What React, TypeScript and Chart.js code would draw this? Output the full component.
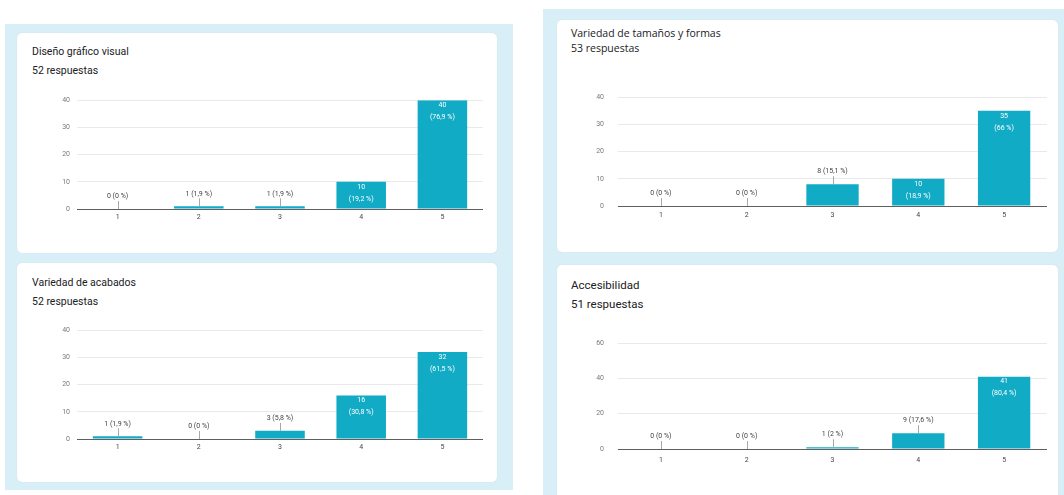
import React, { useEffect, useRef } from "react";
import { Chart, registerables } from "chart.js";

Chart.register(...registerables);

// ---------- data ----------
const categories = ["1", "2", "3", "4", "5"];

const disenoTitle = "Diseño gráfico visual";
const disenoCount = "52 respuestas";
const disenoValues = [0, 1, 1, 10, 40];
const disenoPct = ["0 %", "1,9 %", "1,9 %", "19,2 %", "76,9 %"];

const tamanosTitle = "Variedad de tamaños y formas";
const tamanosCount = "53 respuestas";
const tamanosValues = [0, 0, 8, 10, 35];
const tamanosPct = ["0 %", "0 %", "15,1 %", "18,9 %", "66 %"];

const acabadosTitle = "Variedad de acabados";
const acabadosCount = "52 respuestas";
const acabadosValues = [1, 0, 3, 16, 32];
const acabadosPct = ["1,9 %", "0 %", "5,8 %", "30,8 %", "61,5 %"];

const accesTitle = "Accesibilidad";
const accesCount = "51 respuestas";
const accesValues = [0, 0, 1, 9, 41];
const accesPct = ["0 %", "0 %", "2 %", "17,6 %", "80,4 %"];

const yTicks40 = [0, 10, 20, 30, 40];
const yTicks60 = [0, 20, 40, 60];

// ---------- styles ----------
const BAR = "#12abc5";
const PAGE_BG = "#d9eff8";

const barLabels = {
  id: "barLabels",
  afterDatasetsDraw(chart: any, _args: any, opts: any) {
    const ctx = chart.ctx;
    const meta = chart.getDatasetMeta(0);
    const ds = chart.data.datasets[0];
    const pcts: string[] = opts.pcts || [];
    meta.data.forEach((bar: any, i: number) => {
      const { x, y, base } = bar.getProps(["x", "y", "base"], true);
      const v = ds.data[i];
      const h = base - y;
      ctx.save();
      ctx.font = "7px Roboto, 'Liberation Sans', sans-serif";
      ctx.textAlign = "center";
      ctx.textBaseline = "middle";
      if (h > 22) {
        ctx.fillStyle = "#ffffff";
        ctx.fillText(String(v), x, y + 5);
        ctx.fillText("(" + pcts[i] + ")", x, y + 17);
      } else {
        const lx = Math.round(x) + 0.5;
        ctx.strokeStyle = "#a8a8a8";
        ctx.lineWidth = 1;
        ctx.beginPath();
        ctx.moveTo(lx, y);
        ctx.lineTo(lx, y - 8);
        ctx.stroke();
        ctx.fillStyle = "#444444";
        ctx.fillText(v + " (" + pcts[i] + ")", x, y - 12.5);
      }
      ctx.restore();
    });
  },
};

type Geo = { left: number; right: number; top: number; bottom: number; yPad: number; xPad: number };

function BarChart(props: { values: number[]; pcts: string[]; yTicks: number[]; geo: Geo }) {
  const ref = useRef<HTMLCanvasElement | null>(null);
  const { values, pcts, yTicks, geo } = props;
  const yAxisW = 40;
  const padTop = 8;
  const padRight = 6;
  const xAxisH = 20;
  const cLeft = geo.left - yAxisW;
  const cTop = geo.top - padTop;
  const cW = geo.right + padRight - cLeft;
  const cH = geo.bottom + xAxisH - cTop;

  useEffect(() => {
    if (!ref.current) return;
    const yMax = yTicks[yTicks.length - 1];
    const chart = new Chart(ref.current, {
      type: "bar",
      data: {
        labels: categories,
        datasets: [
          {
            data: values,
            backgroundColor: BAR,
            borderWidth: 0,
            barPercentage: 0.61,
            categoryPercentage: 1,
          },
        ],
      },
      options: {
        animation: false,
        responsive: false,
        devicePixelRatio: 1,
        layout: { padding: { top: padTop, right: padRight, left: 0, bottom: 0 } },
        plugins: {
          legend: { display: false },
          tooltip: { enabled: false },
          barLabels: { pcts },
        } as any,
        scales: {
          x: {
            grid: { display: false, drawTicks: false },
            border: { display: false },
            ticks: {
              color: "#444",
              padding: geo.xPad,
              font: { size: 7, family: "Roboto, 'Liberation Sans', sans-serif" },
            },
            afterFit: (s: any) => {
              s.height = xAxisH;
            },
          },
          y: {
            min: 0,
            max: yMax,
            afterBuildTicks: (s: any) => {
              s.ticks = yTicks.map((v) => ({ value: v }));
            },
            grid: {
              drawTicks: false,
              color: (c: any) => (c.tick && c.tick.value === 0 ? "#5f5f5f" : "#e9e9e9"),
              lineWidth: 1,
            },
            border: { display: false },
            ticks: {
              color: "#7a7a7a",
              padding: geo.yPad,
              font: { size: 7, family: "Roboto, 'Liberation Sans', sans-serif" },
            },
            afterFit: (s: any) => {
              s.width = yAxisW;
            },
          },
        },
      } as any,
      plugins: [barLabels as any],
    });
    return () => chart.destroy();
  }, []);

  return (
    <canvas
      ref={ref}
      width={cW}
      height={cH}
      style={{ position: "absolute", left: cLeft, top: cTop, width: cW, height: cH }}
    />
  );
}

function Box(props: { x: number; y: number; w: number; h: number; bg: string; card?: boolean }) {
  return (
    <div
      style={{
        position: "absolute",
        left: props.x,
        top: props.y,
        width: props.w,
        height: props.h,
        background: props.bg,
        borderRadius: props.card ? 5 : 0,
        boxShadow: props.card ? "0 0 1px rgba(0,0,0,0.12)" : "none",
      }}
    />
  );
}

function Label(props: { x: number; cy: number; text: string; size: number; family: string }) {
  const lh = 14;
  return (
    <div
      style={{
        position: "absolute",
        left: props.x,
        top: props.cy - lh / 2,
        lineHeight: lh + "px",
        fontSize: props.size,
        fontFamily: props.family,
        color: "#202124",
        whiteSpace: "nowrap",
      }}
    >
      {props.text}
    </div>
  );
}

const ROBOTO = "Roboto, 'Liberation Sans', sans-serif";
const WIDE = "'Open Sans', Roboto, sans-serif";

export default function App() {
  return (
    <div
      style={{
        position: "fixed",
        left: 0,
        top: 0,
        width: 1064,
        height: 495,
        background: "#ffffff",
        overflow: "hidden",
      }}
    >
      <Box x={5} y={24} w={508} h={466} bg={PAGE_BG} />
      <Box x={543} y={9} w={521} h={490} bg={PAGE_BG} />
      <Box x={17} y={33} w={480} h={220} bg="#ffffff" card />
      <Box x={17} y={263} w={480} h={219} bg="#ffffff" card />
      <Box x={557} y={20} w={501} h={232} bg="#ffffff" card />
      <Box x={557} y={265} w={501} h={240} bg="#ffffff" card />

      <Label x={32} cy={52} text={disenoTitle} size={10.5} family={ROBOTO} />
      <Label x={32} cy={71} text={disenoCount} size={10.5} family={ROBOTO} />
      <Label x={571} cy={33} text={tamanosTitle} size={10.5} family={WIDE} />
      <Label x={571} cy={48} text={tamanosCount} size={10.5} family={WIDE} />
      <Label x={32} cy={283} text={acabadosTitle} size={10.5} family={ROBOTO} />
      <Label x={32} cy={302} text={acabadosCount} size={10.5} family={ROBOTO} />
      <Label x={571} cy={285} text={accesTitle} size={11.5} family={ROBOTO} />
      <Label x={571} cy={304} text={accesCount} size={11.5} family={ROBOTO} />

      <BarChart
        values={disenoValues}
        pcts={disenoPct}
        yTicks={yTicks40}
        geo={{ left: 77, right: 483, top: 97, bottom: 209, yPad: 7, xPad: 4 }}
      />
      <BarChart
        values={tamanosValues}
        pcts={tamanosPct}
        yTicks={yTicks40}
        geo={{ left: 618, right: 1047, top: 87, bottom: 206, yPad: 14, xPad: 5 }}
      />
      <BarChart
        values={acabadosValues}
        pcts={acabadosPct}
        yTicks={yTicks40}
        geo={{ left: 77, right: 483, top: 327, bottom: 439, yPad: 7, xPad: 4 }}
      />
      <BarChart
        values={accesValues}
        pcts={accesPct}
        yTicks={yTicks60}
        geo={{ left: 618, right: 1047, top: 333, bottom: 449, yPad: 14, xPad: 7 }}
      />
    </div>
  );
}
